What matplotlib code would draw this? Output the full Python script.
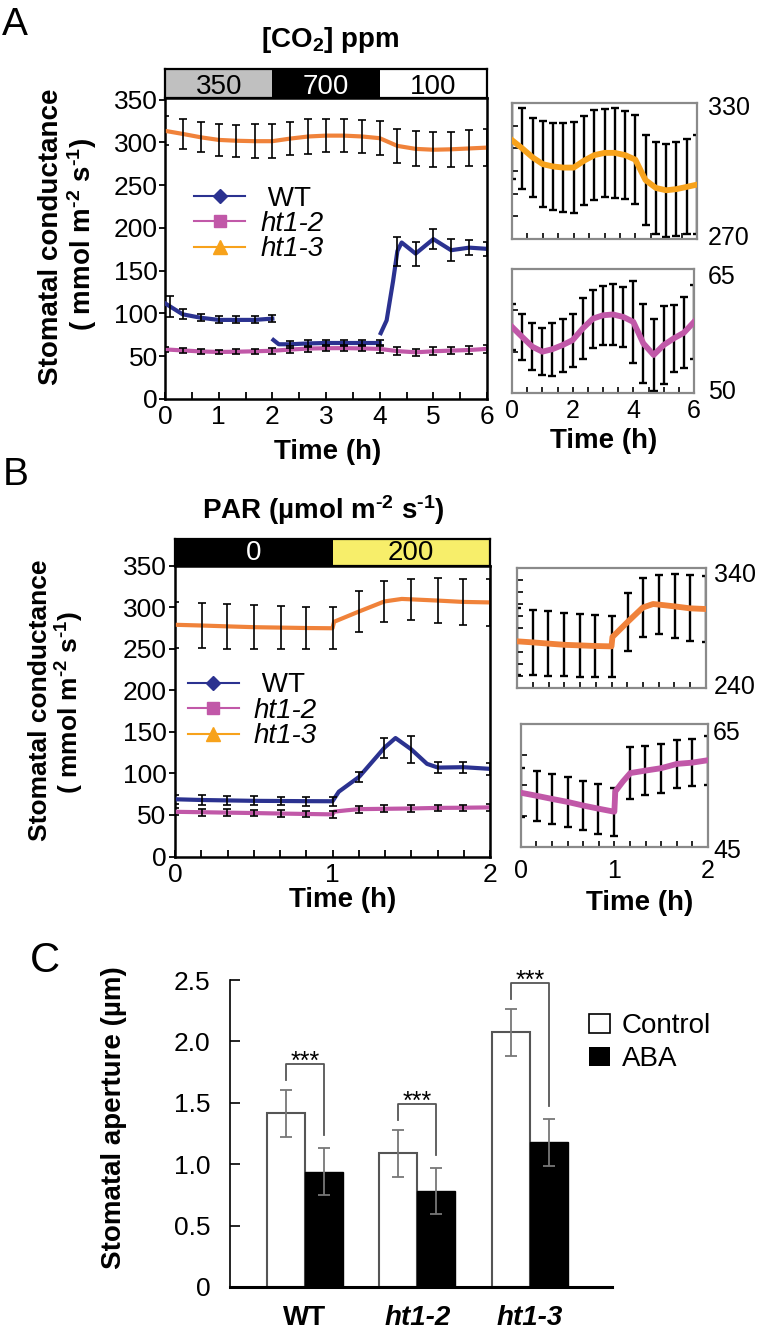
import numpy as np
import matplotlib
matplotlib.use('Agg')
import matplotlib.pyplot as plt
from matplotlib.lines import Line2D
from matplotlib.patches import Patch

plt.rcParams['font.family'] = ['Liberation Sans', 'DejaVu Sans']
plt.rcParams['mathtext.fontset'] = 'custom'
plt.rcParams['mathtext.rm'] = 'Liberation Sans'
plt.rcParams['mathtext.it'] = 'Liberation Sans:italic'
plt.rcParams['mathtext.bf'] = 'Liberation Sans:bold'
plt.rcParams['font.size'] = 20

nan = np.nan

# ---------------- panel A : CO2 steps ----------------
co2_edges = [0, 2, 4, 6]
co2_levels = ['350', '700', '100']
co2_colors = ['#c0c0c0', 'black', 'white']
co2_tcolors = ['black', 'white', 'black']

a_t = [0, 0.33, 0.67, 1, 1.33, 1.67, 2, 2.33, 2.67, 3, 3.33, 3.67, 4,
       4.33, 4.67, 5, 5.33, 5.67, 6]
ht13_a = [313.6, 310, 306, 303, 302, 301.5, 301.5, 304.5, 307, 308, 308, 307, 305,
          296, 292.5, 291.5, 292, 293, 294]
ht13_a_err = [17, 18, 17.6, 19, 19, 19.6, 20, 19.7, 20, 19.5, 19.7, 19.3, 19.7,
              20, 20.5, 20.5, 20.7, 21, 22]
ht12_a = [58.0, 56.8, 55.6, 55.0, 55.3, 55.8, 56.4, 57.8, 59.0, 59.4, 59.5, 59.2, 58.6,
          56.0, 54.6, 55.8, 56.6, 57.3, 58.6]
ht12_a_err = [2.8, 2.8, 2.85, 2.85, 3.2, 3.2, 3.2, 3.7, 3.5, 3.6, 3.7, 3.6, 5.0,
              4.8, 4.3, 4.7, 4.1, 4.3, 4.5]

# WT was recorded in three pieces
wt_a_t1 = [0, 0.1, 0.33, 0.67, 1, 1.33, 1.67, 2]
wt_a_y1 = [112, 108, 99, 95, 92.5, 92.5, 92.5, 94]
wt_a_e1 = [nan, 12, 6, 4, 4, 4, 4, 4]
wt_a_t2 = [2.02, 2.12, 2.33, 2.67, 3, 3.33, 3.67, 4]
wt_a_y2 = [69, 64, 64, 65, 65.5, 65.5, 65.5, 65.5]
wt_a_e2 = [nan, nan, 4, 4, 4, 4, 4, 4]
wt_a_t3 = [4.02, 4.13, 4.19, 4.25, 4.33, 4.41, 4.67, 5, 5.33, 5.67, 6]
wt_a_y3 = [77, 92, 115, 138, 173, 183, 170, 187, 174, 177, 175.6]
wt_a_e3 = [nan, nan, nan, nan, 17, nan, 14, 12, 12.6, 9, 8]

# ---------------- panel B : light steps ----------------
par_edges = [0, 1, 2]
par_levels = ['0', '200']
par_colors = ['black', '#f7ee6a']
par_tcolors = ['white', 'black']

wt_b_t = [0, 0.17, 0.33, 0.5, 0.67, 0.83, 1, 1.04, 1.17, 1.28, 1.33, 1.4, 1.5, 1.6, 1.67, 1.83, 2]
wt_b = [68.9, 68, 67.5, 67, 66.8, 66.6, 66.5, 78, 96, 120, 131, 142.6, 129, 111.5, 107, 107.5, 105.5]
wt_b_err = [5.4, 5.8, 5.5, 5.5, 5, 5.5, 5.4, nan, 6, nan, 12, nan, 16, nan, 7, 6.6, 7]

ht13_b_t = [0, 0.17, 0.33, 0.5, 0.67, 0.83, 1, 1.01, 1.17, 1.33, 1.44, 1.5, 1.67, 1.83, 2]
ht13_b = [278.9, 278, 277, 276, 275.5, 275, 274.7, 282.5, 295, 307, 310, 309.5, 308, 306.4, 305.8]
ht13_b_err = [28, 27, 27, 26.4, 26, 25.7, 25.3, nan, 24.3, 24.3, nan, 24.6, 26.7, 27.5, 27.8]

ht12_b_t = [0, 0.17, 0.33, 0.5, 0.67, 0.83, 1, 1.01, 1.09, 1.17, 1.33, 1.5, 1.67, 1.83, 2]
ht12_b = [53.8, 53.3, 52.8, 52.3, 51.7, 51.2, 50.7, 54, 55.6, 57.0, 57.4, 57.8, 58.5, 58.7, 59.1]
ht12_b_err = [4, 4.1, 4.1, 4.1, 4, 4.1, 3.9, nan, nan, 4.2, 4, 4, 3.9, 3.8, 4]

# inset y ranges
a1_range = (270, 330)
a2_range = (50, 65)
b1_range = (240, 340)
b2_range = (45, 65)

# ---------------- panel C : apertures ----------------
genotypes = ['WT', 'ht1-2', 'ht1-3']
ctrl = [1.414, 1.089, 2.074]
ctrl_err = [0.19, 0.19, 0.19]
aba = [0.939, 0.782, 1.178]
aba_err = [0.19, 0.186, 0.19]
sig = ['***', '***', '***']

c_wt = '#2b3290'
c_h2 = '#c158a8'
c_h3 = '#f0823a'
c_h3_light = '#f7a21b'

# units with a short hyphen in the exponents, as in the original artwork
units = '( mmol m$^{\\mathbf{\u20102}}$ s$^{\\mathbf{\u20101}}$)'
par_title = 'PAR (\u00b5mol m$^{\\mathbf{\u20102}}$ s$^{\\mathbf{\u20101}}$)'

W, H = 760, 1333
fig = plt.figure(figsize=(W / 100, H / 100), dpi=100)


def px_axes(x0, y0, x1, y1):
    return fig.add_axes([x0 / W, 1 - y1 / H, (x1 - x0) / W, (y1 - y0) / H])


def ftext(x, y, s, **kw):
    fig.text(x / W, 1 - y / H, s, **kw)


def band(ax, edges, levels, colors, tcolors, ty):
    for i in range(len(levels)):
        ax.broken_barh([(edges[i], edges[i + 1] - edges[i])], (0, 1),
                       facecolors=colors[i], edgecolor='none')
        ax.text((edges[i] + edges[i + 1]) / 2, ty, levels[i], color=tcolors[i],
                ha='center', va='center', fontsize=20)
    ax.set_xlim(edges[0], edges[-1])
    ax.set_ylim(0, 1)
    ax.set_xticks([])
    ax.set_yticks([])
    for s in ax.spines.values():
        s.set_linewidth(1.6)


def series(ax, t, y, e, color, lw, elw, cap, ez=4):
    t = np.asarray(t, float)
    y = np.asarray(y, float)
    e = np.asarray(e, float)
    ax.plot(t, y, color=color, lw=lw, zorder=3)
    m = ~np.isnan(e)
    ax.errorbar(t[m], y[m], yerr=e[m], fmt='none', ecolor='black',
                elinewidth=elw, capsize=cap, capthick=elw, zorder=ez)


def inset(ax, xmax, yr, yt, xstep, xlab, lab_off):
    ax.set_xlim(0, xmax)
    ax.set_ylim(*yr)
    for s in ax.spines.values():
        s.set_color('#8a8a8a')
        s.set_linewidth(1.6)
    ax.set_yticks(yt)
    allx = np.arange(0, xmax + 1e-6, xstep)
    if xlab is None:
        ax.set_xticks(allx)
        ax.tick_params(axis='x', labelbottom=False)
    else:
        ax.set_xticks(xlab[0])
        ax.set_xticklabels([str(v) for v in xlab[0]])
        ax.set_xticks(allx, minor=True)
        ax.tick_params(axis='x', which='major', labelsize=18, pad=xlab[1])
    ax.tick_params(which='both', direction='in', length=4, width=1.2, labelleft=False,
                   color='black')
    (dxt, dyt), (dxb, dyb) = lab_off
    ax.annotate(str(yr[1]), xy=(1, yr[1]), xycoords=('axes fraction', 'data'),
                xytext=(dxt, dyt), textcoords='offset pixels', va='center',
                ha='left', fontsize=18, annotation_clip=False)
    ax.annotate(str(yr[0]), xy=(1, yr[0]), xycoords=('axes fraction', 'data'),
                xytext=(dxb, dyb), textcoords='offset pixels', va='center',
                ha='left', fontsize=18, annotation_clip=False)


def main_axes(ax, xmax, xmajor, xminor, ylim, ypad, xpad):
    ax.set_xlim(0, xmax)
    ax.set_ylim(*ylim)
    ax.set_yticks(np.arange(0, 351, 50))
    ax.set_xticks(xmajor)
    ax.set_xticks(xminor, minor=True)
    ax.tick_params(axis='y', direction='out', length=4, width=1.3, pad=ypad, labelsize=19)
    ax.tick_params(axis='x', which='both', direction='in', length=5, width=1.3,
                   pad=xpad, labelsize=19)
    for s in ax.spines.values():
        s.set_linewidth(1.8)


def legend3(ax, anchor):
    hs = [Line2D([], [], color=c_wt, marker='D', ms=7, lw=1.5),
          Line2D([], [], color=c_h2, marker='s', ms=8, lw=1.5),
          Line2D([], [], color=c_h3_light, marker='^', ms=10, lw=1.5)]
    leg = ax.legend(hs, [' WT', 'ht1-2', 'ht1-3'], loc='upper left',
                    bbox_to_anchor=anchor, frameon=False, borderpad=0,
                    borderaxespad=0, handlelength=1.84, handletextpad=0.54,
                    labelspacing=-0.02, fontsize=20)
    for tx in leg.get_texts()[1:]:
        tx.set_style('italic')


# ================= A =================
band(px_axes(165, 69, 487, 98), co2_edges, co2_levels, co2_colors, co2_tcolors, 0.37)
axA = px_axes(165, 98, 487, 399)
series(axA, a_t, ht13_a, ht13_a_err, c_h3, 3.0, 1.2, 3)
series(axA, a_t, ht12_a, ht12_a_err, c_h2, 3.0, 1.2, 3)
series(axA, wt_a_t1, wt_a_y1, wt_a_e1, c_wt, 3.0, 1.2, 3)
series(axA, wt_a_t2, wt_a_y2, wt_a_e2, c_wt, 3.0, 1.2, 3)
series(axA, wt_a_t3, wt_a_y3, wt_a_e3, c_wt, 3.0, 1.2, 3)
main_axes(axA, 6, range(7), np.arange(0, 6.01, 0.5), (0, 352), 1, 4)
legend3(axA, (0.09, 0.709))

axA1 = px_axes(512, 103, 697, 239)
series(axA1, a_t, ht13_a, ht13_a_err, c_h3_light, 4.2, 1.7, 3, ez=2)
inset(axA1, 6, a1_range, np.arange(280, 321, 10), 0.5, None, ((11, -5), (11, 1)))
axA2 = px_axes(512, 269, 694, 393)
series(axA2, a_t, ht12_a, ht12_a_err, c_h2, 4.2, 1.7, 3, ez=2)
inset(axA2, 6, a2_range, [55, 60], 0.5, ([0, 2, 4, 6], 4.5), ((14, -8), (14, 1)))

ftext(330, 40, r'[CO$_\mathbf{2}$] ppm', ha='center', va='center', fontweight='bold')
ftext(51, 237, 'Stomatal conductance', rotation=90, ha='center', va='center', fontweight='bold')
ftext(82, 235, units, rotation=90, ha='center', va='center', fontweight='bold')
ftext(328, 452, 'Time (h)', ha='center', va='center', fontweight='bold')
ftext(604, 441, 'Time (h)', ha='center', va='center', fontweight='bold')
ftext(2, 35, 'A', fontsize=28, va='baseline')

# ================= B =================
band(px_axes(175, 539, 490, 565.7), par_edges, par_levels, par_colors, par_tcolors, 0.47)
axB = px_axes(175, 565.7, 490, 856.5)
series(axB, ht13_b_t, ht13_b, ht13_b_err, c_h3, 3.0, 1.2, 3)
series(axB, ht12_b_t, ht12_b, ht12_b_err, c_h2, 3.0, 1.2, 3)
series(axB, wt_b_t, wt_b, wt_b_err, c_wt, 3.0, 1.2, 3)
main_axes(axB, 2, range(3), np.arange(0, 2.01, 1 / 6), (0, 350), 2, 5)
legend3(axB, (0.041, 0.633))

axB1 = px_axes(517, 568, 706, 688)
series(axB1, ht13_b_t, ht13_b, ht13_b_err, c_h3, 4.2, 1.7, 3, ez=2)
inset(axB1, 2, b1_range, np.arange(250, 331, 10), 1 / 6, None, ((8, -7), (8, 1)))
axB2 = px_axes(520.7, 724, 708, 846.7)
series(axB2, ht12_b_t, ht12_b, ht12_b_err, c_h2, 4.2, 1.7, 3, ez=2)
inset(axB2, 2, b2_range, [50, 55, 60], 1 / 6, ([0, 1, 2], 8.5), ((5, -9), (5, -4)))

ftext(323, 510, par_title, ha='center', va='center', fontweight='bold')
ftext(40, 700, 'Stomatal conductance', rotation=90, ha='center', va='center',
      fontweight='bold', fontsize=19)
ftext(70, 702, units, rotation=90, ha='center', va='center', fontweight='bold', fontsize=19)
ftext(343, 900, 'Time (h)', ha='center', va='center', fontweight='bold')
ftext(640, 903, 'Time (h)', ha='center', va='center', fontweight='bold')
ftext(3, 485, 'B', fontsize=28, va='baseline')

# ================= C =================
axC = px_axes(230, 980, 612, 1287)
x = np.arange(len(genotypes))
bw = 0.338
axC.bar(x - bw / 2, ctrl, bw, color='white', edgecolor='#555555', lw=1.5, zorder=2)
axC.bar(x + bw / 2, aba, bw, color='black', edgecolor='black', lw=1.0, zorder=2)
axC.errorbar(x - bw / 2, ctrl, yerr=ctrl_err, fmt='none', ecolor='#777777',
             elinewidth=1.3, capsize=4.3, capthick=1.3, zorder=3)
axC.errorbar(x + bw / 2, aba, yerr=aba_err, fmt='none', ecolor='#777777',
             elinewidth=1.3, capsize=4.3, capthick=1.3, zorder=3)
for i in range(len(genotypes)):
    yl = ctrl[i] + ctrl_err[i] + 0.08
    top = yl + 0.13
    yr = aba[i] + aba_err[i] + 0.11
    axC.plot([i - bw / 2, i - bw / 2, i + bw / 2, i + bw / 2], [yl, top, top, yr],
             color='#555555', lw=1.3, clip_on=False)
    axC.text(i, top - 0.04, sig[i], ha='center', va='baseline', fontsize=18)
axC.set_xlim(-0.667, 2.73)
axC.set_ylim(0, 2.5)
axC.spines['top'].set_visible(False)
axC.spines['right'].set_visible(False)
axC.spines['left'].set_linewidth(1.2)
axC.spines['bottom'].set_linewidth(2.2)
yt = [0, 0.5, 1.0, 1.5, 2.0, 2.5]
axC.set_yticks(yt)
axC.set_yticklabels(['0'] + ['%.1f' % v for v in yt[1:]])
axC.tick_params(axis='y', direction='in', length=7, width=1.2, pad=14, labelsize=19)
axC.set_xticks(x)
axC.set_xticklabels(genotypes, fontweight='bold', fontsize=20)
for tl in axC.get_xticklabels()[1:]:
    tl.set_style('italic')
axC.tick_params(axis='x', length=0, pad=13)
axC.legend([Patch(facecolor='white', edgecolor='black', lw=1.2), Patch(facecolor='black')],
           ['Control', 'ABA'], loc='upper left', bbox_to_anchor=(0.94, 0.892),
           frameon=False, borderpad=0, borderaxespad=0, handlelength=0.75,
           handleheight=0.7, handletextpad=0.42, labelspacing=0.25, fontsize=20)
ftext(114, 1118, 'Stomatal aperture (\u00b5m)', rotation=90, ha='center', va='center',
      fontweight='bold')
ftext(30, 972, 'C', fontsize=30, va='baseline')

fig.savefig('out.png', dpi=100)
